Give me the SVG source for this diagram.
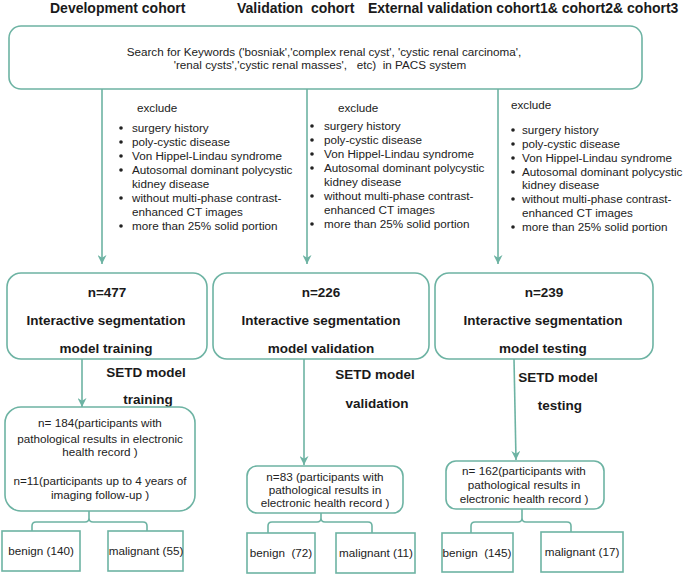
<svg xmlns="http://www.w3.org/2000/svg" width="685" height="575" viewBox="0 0 685 575">
<defs>
<marker id="ah" viewBox="0 0 10 10" refX="10" refY="5" markerWidth="9" markerHeight="9" markerUnits="userSpaceOnUse" orient="auto">
<path d="M0,0 L10,5 L0,10 L3,5 z" fill="#6db3a3"/>
</marker>
<style>
.box{fill:#fff;stroke:#6db3a3;stroke-width:1.6}
.ln{fill:none;stroke:#6db3a3;stroke-width:1.6}
.h{font-family:"Liberation Sans",Arial,sans-serif;font-weight:bold;font-size:14px;fill:#1a1a1a}
.b{font-family:"Liberation Sans",Arial,sans-serif;font-weight:bold;font-size:13.5px;fill:#1a1a1a;text-anchor:middle}
.t{font-family:"Liberation Sans",Arial,sans-serif;font-size:11.7px;fill:#222}
.c{text-anchor:middle}
.dot{fill:#222}
</style>
</defs>
<rect width="685" height="575" fill="#fff"/>

<g id="headers">
<text class="h" x="50" y="13">Development cohort</text>
<text class="h" x="237" y="13" xml:space="preserve">Validation  cohort</text>
<text class="h" x="368" y="13">External validation cohort1&amp; cohort2&amp; cohort3</text>
</g>

<g id="connectors">
<line class="ln" x1="102" y1="89" x2="102" y2="264" marker-end="url(#ah)"/>
<line class="ln" x1="307" y1="89" x2="307" y2="264" marker-end="url(#ah)"/>
<line class="ln" x1="498" y1="89" x2="498" y2="264" marker-end="url(#ah)"/>
<line class="ln" x1="82" y1="359" x2="82" y2="407" marker-end="url(#ah)"/>
<line class="ln" x1="304" y1="359" x2="304" y2="465" marker-end="url(#ah)"/>
<line class="ln" x1="514" y1="359" x2="516" y2="460" marker-end="url(#ah)"/>
<path class="ln" d="M32,531 V526 Q32,522 36,522 H85 Q89,522 89,518 V511 M89,518 Q89,522 93,522 H143 Q147,522 147,526 V531"/>
<path class="ln" d="M268,533 V526 Q268,522 272,522 H317 Q321,522 321,518 V513 M321,518 Q321,522 325,522 H368 Q372,522 372,526 V533"/>
<path class="ln" d="M471,533 V526 Q471,522 475,522 H518 Q522,522 522,518 V509 M522,518 Q522,522 526,522 H567 Q571,522 571,526 V532"/>
</g>

<g id="search">
<rect class="box" x="9" y="26" width="633" height="63" rx="12"/>
<text class="t c" x="324" y="56">Search for Keywords ('bosniak','complex renal cyst', 'cystic renal carcinoma',</text>
<text class="t c" x="320" y="69" xml:space="preserve">'renal cysts','cystic renal masses',   etc)  in PACS system</text>
</g>

<g id="exclude1">
<text class="t" x="137" y="112">exclude</text>
<g class="dot"><circle cx="121" cy="128" r="1.8"/><circle cx="121" cy="142" r="1.8"/><circle cx="121" cy="156" r="1.8"/><circle cx="121" cy="170" r="1.8"/><circle cx="121" cy="198" r="1.8"/><circle cx="121" cy="226" r="1.8"/></g>
<text class="t" x="132" y="132">surgery history</text>
<text class="t" x="132" y="146">poly-cystic disease</text>
<text class="t" x="132" y="160">Von Hippel-Lindau syndrome</text>
<text class="t" x="132" y="174">Autosomal dominant polycystic</text>
<text class="t" x="132" y="188">kidney disease</text>
<text class="t" x="132" y="202">without multi-phase contrast-</text>
<text class="t" x="132" y="216">enhanced CT images</text>
<text class="t" x="132" y="230">more than 25% solid portion</text>
</g>

<g id="exclude2">
<text class="t" x="338" y="112">exclude</text>
<g class="dot"><circle cx="312" cy="126" r="1.8"/><circle cx="312" cy="140" r="1.8"/><circle cx="312" cy="154" r="1.8"/><circle cx="312" cy="168" r="1.8"/><circle cx="312" cy="196" r="1.8"/><circle cx="312" cy="224" r="1.8"/></g>
<text class="t" x="324" y="130">surgery history</text>
<text class="t" x="324" y="144">poly-cystic disease</text>
<text class="t" x="324" y="158">Von Hippel-Lindau syndrome</text>
<text class="t" x="324" y="172">Autosomal dominant polycystic</text>
<text class="t" x="324" y="186">kidney disease</text>
<text class="t" x="324" y="200">without multi-phase contrast-</text>
<text class="t" x="324" y="214">enhanced CT images</text>
<text class="t" x="324" y="228">more than 25% solid portion</text>
</g>

<g id="exclude3">
<text class="t" x="511" y="109">exclude</text>
<g class="dot"><circle cx="513" cy="130" r="1.8"/><circle cx="513" cy="144" r="1.8"/><circle cx="513" cy="158" r="1.8"/><circle cx="513" cy="172" r="1.8"/><circle cx="513" cy="199" r="1.8"/><circle cx="513" cy="227" r="1.8"/></g>
<text class="t" x="522" y="134">surgery history</text>
<text class="t" x="522" y="148">poly-cystic disease</text>
<text class="t" x="522" y="162">Von Hippel-Lindau syndrome</text>
<text class="t" x="522" y="176">Autosomal dominant polycystic</text>
<text class="t" x="522" y="189">kidney disease</text>
<text class="t" x="522" y="203">without multi-phase contrast-</text>
<text class="t" x="522" y="217">enhanced CT images</text>
<text class="t" x="522" y="231">more than 25% solid portion</text>
</g>

<g id="train">
<rect class="box" x="7" y="273" width="200" height="86" rx="14"/>
<text class="b" x="107" y="297">n=477</text>
<text class="b" x="106" y="325">Interactive segmentation</text>
<text class="b" x="106" y="353">model training</text>
</g>

<g id="valid">
<rect class="box" x="213" y="273" width="216" height="86" rx="14"/>
<text class="b" x="321" y="297">n=226</text>
<text class="b" x="321" y="325">Interactive segmentation</text>
<text class="b" x="321" y="353">model validation</text>
</g>

<g id="test">
<rect class="box" x="435" y="273" width="218" height="86" rx="14"/>
<text class="b" x="544" y="297">n=239</text>
<text class="b" x="543" y="325">Interactive segmentation</text>
<text class="b" x="543" y="353">model testing</text>
</g>

<g id="setd-labels">
<text class="b" x="146" y="377">SETD model</text>
<text class="b" x="148" y="404">training</text>
<text class="b" x="375" y="379">SETD model</text>
<text class="b" x="377" y="408">validation</text>
<text class="b" x="558" y="382">SETD model</text>
<text class="b" x="560" y="410">testing</text>
</g>

<g id="train-result">
<rect class="box" x="5" y="407" width="190" height="104" rx="16"/>
<text class="t c" x="100" y="427">n= 184(participants with</text>
<text class="t c" x="100" y="443">pathological results in electronic</text>
<text class="t c" x="100" y="456">health record )</text>
<text class="t c" x="100" y="485">n=11(participants up to 4 years of</text>
<text class="t c" x="100" y="499">imaging follow-up )</text>
</g>

<g id="valid-result">
<rect class="box" x="247" y="466" width="156" height="47" rx="10"/>
<text class="t c" x="325" y="481">n=83 (participants with</text>
<text class="t c" x="325" y="494">pathological results in</text>
<text class="t c" x="325" y="507">electronic health record )</text>
</g>

<g id="test-result">
<rect class="box" x="446" y="461" width="158" height="48" rx="10"/>
<text class="t c" x="524" y="475">n= 162(participants with</text>
<text class="t c" x="524" y="489">pathological results in</text>
<text class="t c" x="524" y="503">electronic health record )</text>
</g>

<g id="benign1"><rect class="box" x="2" y="531" width="78" height="40"/><text class="t c" x="41" y="555">benign (140)</text></g>
<g id="malig1"><rect class="box" x="108" y="531" width="75" height="40"/><text class="t c" x="146" y="555">malignant (55)</text></g>
<g id="benign2"><rect class="box" x="247" y="533" width="68" height="40"/><text class="t c" x="281" y="557" xml:space="preserve">benign  (72)</text></g>
<g id="malig2"><rect class="box" x="336" y="533" width="79" height="40"/><text class="t c" x="376" y="557">malignant (11)</text></g>
<g id="benign3"><rect class="box" x="442" y="533" width="71" height="39"/><text class="t c" x="477" y="557" xml:space="preserve">benign  (145)</text></g>
<g id="malig3"><rect class="box" x="541" y="532" width="82" height="40"/><text class="t c" x="582" y="556">malignant (17)</text></g>
</svg>
